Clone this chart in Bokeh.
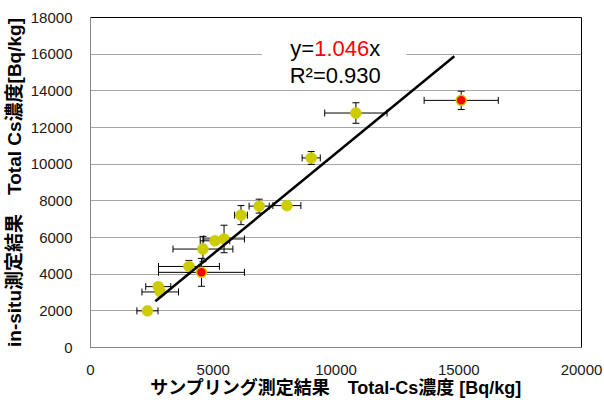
import math
from bokeh.plotting import figure
from bokeh.models import Range1d, FixedTicker, ColumnDataSource
from bokeh.core.properties import value
from bokeh.embed import file_html
from bokeh.resources import INLINE

# ---------------- data ----------------
# yellow-green points: sampling result (x) vs in-situ result (y), Bq/kg
sample_x = [2320, 2760, 2840, 4010, 4580, 5070, 5440, 6130, 6870, 8000, 8990, 10810]
insitu_y = [2000, 3320, 3030, 4420, 5370, 5820, 5920, 7220, 7710, 7740, 10340, 12790]
sample_xerr = [430, 510, 745, 1240, 1220, 600, 830, 260, 410, 570, 370, 1270]
insitu_yerr = [200, 150, 150, 330, 690, 150, 750, 520, 380, 150, 350, 560]

# red points
red_x = [4520, 15100]
red_y = [4100, 13480]
red_xerr = [1750, 1510]
red_yerr = [760, 500]

# fitted line end points as drawn
fit_x = [2640, 14820]
fit_y = [2520, 15890]

eq_prefix = "y="
eq_slope = "1.046"
eq_suffix = "x"
eq_r2 = "R²=0.930"

x_ticks = [0, 5000, 10000, 15000, 20000]
y_ticks = [0, 2000, 4000, 6000, 8000, 10000, 12000, 14000, 16000, 18000]

x_title = "サンプリング測定結果　Total-Cs濃度 [Bq/kg]"
y_title = "in-situ測定結果　Total Cs濃度[Bq/kg]"

# ---------------- figure ----------------
FONT = "'Liberation Sans', Arial, 'Noto Sans CJK JP'"
W, H = 604, 400
ML, MR, MT, MB = 90, 23, 17, 52

p = figure(width=W, height=H, output_backend="svg", toolbar_location=None,
           x_range=Range1d(0, 20000), y_range=Range1d(0, 18000),
           min_border_left=ML, min_border_right=MR, min_border_top=MT, min_border_bottom=MB)
p.background_fill_color = "white"
p.border_fill_color = "white"
p.outline_line_color = "black"
p.outline_line_width = 1

p.xaxis.ticker = FixedTicker(ticks=x_ticks)
p.yaxis.ticker = FixedTicker(ticks=y_ticks)
for ax in (p.xaxis[0], p.yaxis[0]):
    ax.axis_line_color = "#868686"
    ax.major_tick_line_color = None
    ax.minor_tick_line_color = None
    ax.major_label_text_font = FONT
    ax.major_label_text_font_size = "15px"
    ax.major_label_text_color = "#1a1a1a"
    ax.axis_label_text_font = FONT
    ax.axis_label_text_font_style = "bold"
    ax.axis_label_text_color = "black"
p.xaxis.axis_label_text_font_size = "18px"
p.yaxis.axis_label_text_font_size = "19px"
p.xaxis.major_label_standoff = 11
p.yaxis.major_label_standoff = 12
p.xaxis.axis_label = x_title
p.yaxis.axis_label = y_title
p.xaxis.axis_label_standoff = 0
p.yaxis.axis_label_standoff = 3

p.xgrid.grid_line_color = None
p.ygrid.grid_line_color = "#a6a6a6"
p.ygrid.grid_line_width = 1

# white box behind the equation
box_left, box_right, box_bottom, box_top = 6990, 12860, 14300, 16950
p.quad(left=[box_left], right=[box_right], bottom=[box_bottom], top=[box_top],
       fill_color="white", line_color=None)

# ---------------- error bars ----------------
all_x = sample_x + red_x
all_y = insitu_y + red_y
all_xe = sample_xerr + red_xerr
all_ye = insitu_yerr + red_yerr
eb = ColumnDataSource(dict(
    x=all_x, y=all_y,
    xl=[a - e for a, e in zip(all_x, all_xe)], xr=[a + e for a, e in zip(all_x, all_xe)],
    yl=[a - e for a, e in zip(all_y, all_ye)], yu=[a + e for a, e in zip(all_y, all_ye)],
))
p.segment(x0="xl", x1="xr", y0="y", y1="y", source=eb, line_color="black", line_width=1)
p.segment(x0="x", x1="x", y0="yl", y1="yu", source=eb, line_color="black", line_width=1)
p.scatter(x="xl", y="y", source=eb, marker="dash", angle=math.pi / 2, size=7, line_color="black", line_width=1)
p.scatter(x="xr", y="y", source=eb, marker="dash", angle=math.pi / 2, size=7, line_color="black", line_width=1)
p.scatter(x="x", y="yl", source=eb, marker="dash", size=7, line_color="black", line_width=1)
p.scatter(x="x", y="yu", source=eb, marker="dash", size=7, line_color="black", line_width=1)

# ---------------- points ----------------
p.scatter(sample_x, insitu_y, size=11, fill_color="#cccc00", line_color="#cccc00", line_width=0.5)
p.scatter(red_x, red_y, size=10, fill_color="#ff0000", line_color="#cccc00", line_width=1.5)

# ---------------- fitted line ----------------
p.line(fit_x, fit_y, line_color="black", line_width=2.5)

# ---------------- equation ----------------
eq_x = 9970
eq_y1 = 16330
eq_y2 = 14860
fs = 22
w_prefix = 1.084 * fs
w_slope = 2.502 * fs
start = -(1.084 + 2.502 + 0.5) * fs / 2
common = dict(text_font=value("Liberation Sans"), text_font_size=f"{fs}px",
              text_baseline="middle", text_align="left")
p.text(x=[eq_x], y=[eq_y1], text=[eq_prefix], x_offset=start, text_color="black", **common)
p.text(x=[eq_x], y=[eq_y1], text=[eq_slope], x_offset=start + w_prefix, text_color="#ff0000", **common)
p.text(x=[eq_x], y=[eq_y1], text=[eq_suffix], x_offset=start + w_prefix + w_slope, text_color="black", **common)
p.text(x=[eq_x], y=[eq_y2], text=[eq_r2], text_color="black",
       text_font=value("Liberation Sans"), text_font_size=f"{fs}px",
       text_baseline="middle", text_align="center")

open("out.html", "w").write(file_html(p, INLINE))
